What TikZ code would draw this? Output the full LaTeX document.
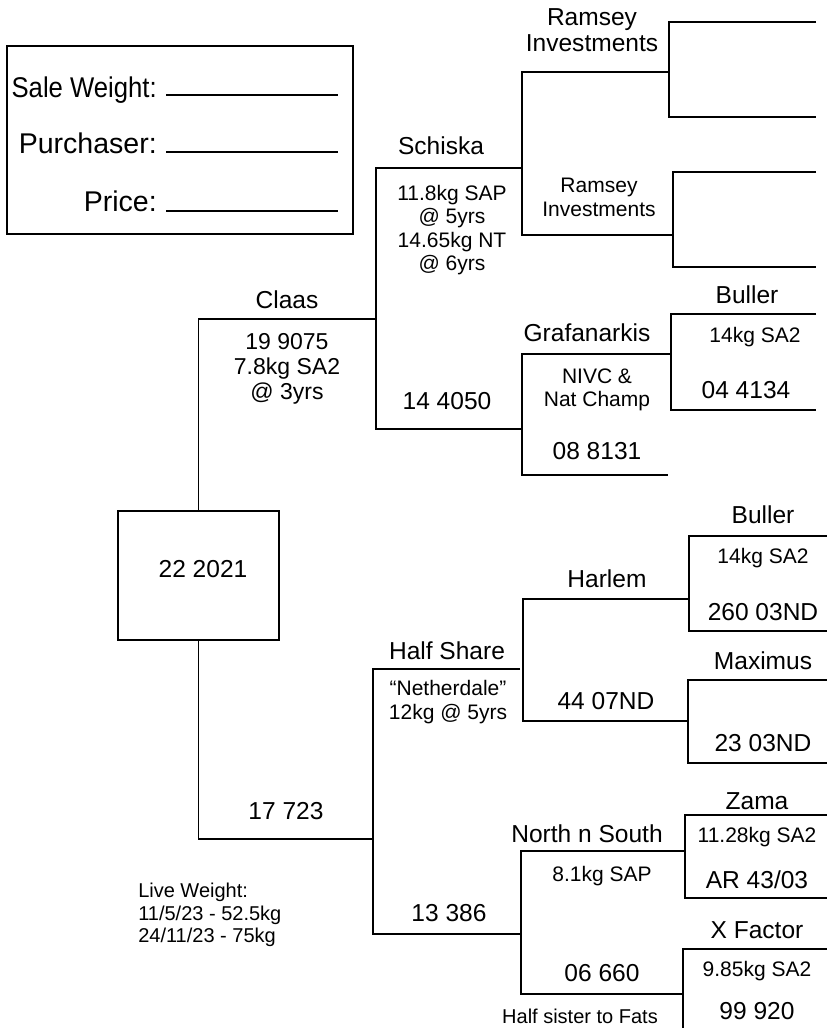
\documentclass[tikz,border=0pt]{standalone}
\usepackage{fontspec}
\setmainfont{Liberation Sans}
\usepackage{tikz}
\tikzset{
    tree/.style={line width=1.2pt},
    boxline/.style={line width=1.7pt},
    horse/.style={anchor=base, inner sep=0pt, font=\fontsize{18.4}{19.5}\selectfont},
    notes/.style={anchor=base, inner sep=0pt, font=\fontsize{15.75}{17.6}\selectfont},
    infolbl/.style={anchor=base east, inner sep=0pt, font=\fontsize{21.4}{24}\selectfont}
}

\begin{document}
\begin{tikzpicture}[x=0.75pt,y=-0.75pt]
    \useasboundingbox (0,0) rectangle (827,1028);
    \node[draw,boxline,inner sep=0pt,minimum width=259.5pt,minimum height=141pt] (info) at (180,140) {};
    \node[infolbl] (sale) at (157,97) {\scalebox{0.9}[1]{Sale Weight:}};
    \node[infolbl] (buyer) at (157,153) {Purchaser:};
    \node[infolbl] (price) at (157,211) {Price:};
    \draw[line width=0.9pt] (166,95) -- (338,95);
    \draw[line width=0.9pt] (166,152) -- (338,152);
    \draw[line width=0.9pt] (166,211) -- (338,211);
    \node[draw,boxline,inner sep=0pt,minimum width=120.75pt,minimum height=96.75pt] (subj) at (198.5,575.5) {};
    \node[horse] (subjno) at (203,577) {22 2021};
    \draw[tree] (376,319) -| (subj.north);
    \draw[tree] (subj.south) |- (373,839);
    \draw[tree] (522,168) -| (376,429) -- (522,429);
    \draw[tree] (669,72) -| (522,235) -- (673,235);
    \draw[tree] (816,22) -| (669,117) -- (816,117);
    \draw[tree] (816,172) -| (673,267) -- (816,267);
    \draw[tree] (670,354) -| (522,475) -- (668,475);
    \draw[tree] (816,314) -| (671,410) -- (816,410);
    \draw[tree] (520,669) -| (373,934) -- (520,934);
    \draw[tree] (689,599) -| (523,721) -- (688,721);
    \draw[tree] (827,536) -| (689,631) -- (827,631);
    \draw[tree] (827,680) -| (688,763) -- (827,763);
    \draw[tree] (684,851) -| (521,994) -- (684,994);
    \draw[tree] (827,815) -| (685,898) -- (827,898);
    \draw[tree] (827,949) -| (683,1032);
    \node[horse] (claas) at (287,308) {Claas};
    \node[horse,anchor=center,align=center,font=\fontsize{17.25}{18.75}\selectfont] (claasnote) at (287,369) {19 9075\\7.8kg SA2\\@ 3yrs};
    \node[horse] (dam) at (286,819) {17 723};
    \node[anchor=west,align=left,inner sep=0pt,font=\fontsize{15}{16.9}\selectfont] (live) at (138,915) {Live Weight:\\11/5/23 - 52.5kg\\24/11/23 - 75kg};
    \node[horse] (schiska) at (441,154) {Schiska};
    \node[notes,anchor=center,align=center] (schiskanote) at (452,230) {11.8kg SAP\\@ 5yrs\\14.65kg NT\\@ 6yrs};
    \node[horse] (sdam) at (447,409) {14 4050};
    \node[horse,anchor=center,align=center,font=\fontsize{18.4}{19.5}\selectfont] (ramseya) at (592,30) {Ramsey\\Investments};
    \node[notes,anchor=center,align=center,font=\fontsize{15.75}{18}\selectfont] (ramseyb) at (599,197) {Ramsey\\Investments};
    \node[horse] (grafa) at (587,341) {Grafanarkis};
    \node[notes,anchor=center,align=center,font=\fontsize{15.75}{17.25}\selectfont] (grafanote) at (597,390) {NIVC \&\\Nat Champ};
    \node[horse] (gdam) at (597,459) {08 8131};
    \node[horse] (bullera) at (747,303) {Buller};
    \node[notes] (bulleranote) at (755,342) {14kg SA2};
    \node[horse] (bulleradam) at (746,398) {04 4134};
    \node[horse] (halfshare) at (447,659) {Half Share};
    \node[notes,anchor=center,align=center,font=\fontsize{15.75}{18}\selectfont] (halfnote) at (448,702) {“Netherdale”\\12kg @ 5yrs};
    \node[horse] (ddam) at (449,921) {13 386};
    \node[horse] (harlem) at (607,587) {Harlem};
    \node[horse] (hdam) at (606,709) {44 07ND};
    \node[horse] (bullerb) at (763,523) {Buller};
    \node[notes] (bullerbnote) at (763,563) {14kg SA2};
    \node[horse] (bullerbdam) at (763,620) {260 03ND};
    \node[horse] (maximus) at (763,669) {Maximus};
    \node[horse] (maxdam) at (763,751) {23 03ND};
    \node[horse] (north) at (587,842) {North n South};
    \node[notes] (northnote) at (602,881) {8.1kg SAP};
    \node[horse] (ndam) at (602,981) {06 660};
    \node[notes,font=\fontsize{15}{16.9}\selectfont] (fats) at (580,1023) {Half sister to Fats};
    \node[horse] (zama) at (757,809) {Zama};
    \node[notes] (zamanote) at (757,842) {11.28kg SA2};
    \node[horse] (zamadam) at (757,888) {AR 43/03};
    \node[horse] (xfactor) at (757,938) {X Factor};
    \node[notes] (xfactornote) at (757,976) {9.85kg SA2};
    \node[horse] (xfactordam) at (757,1019) {99 920};
\end{tikzpicture}
\end{document}
